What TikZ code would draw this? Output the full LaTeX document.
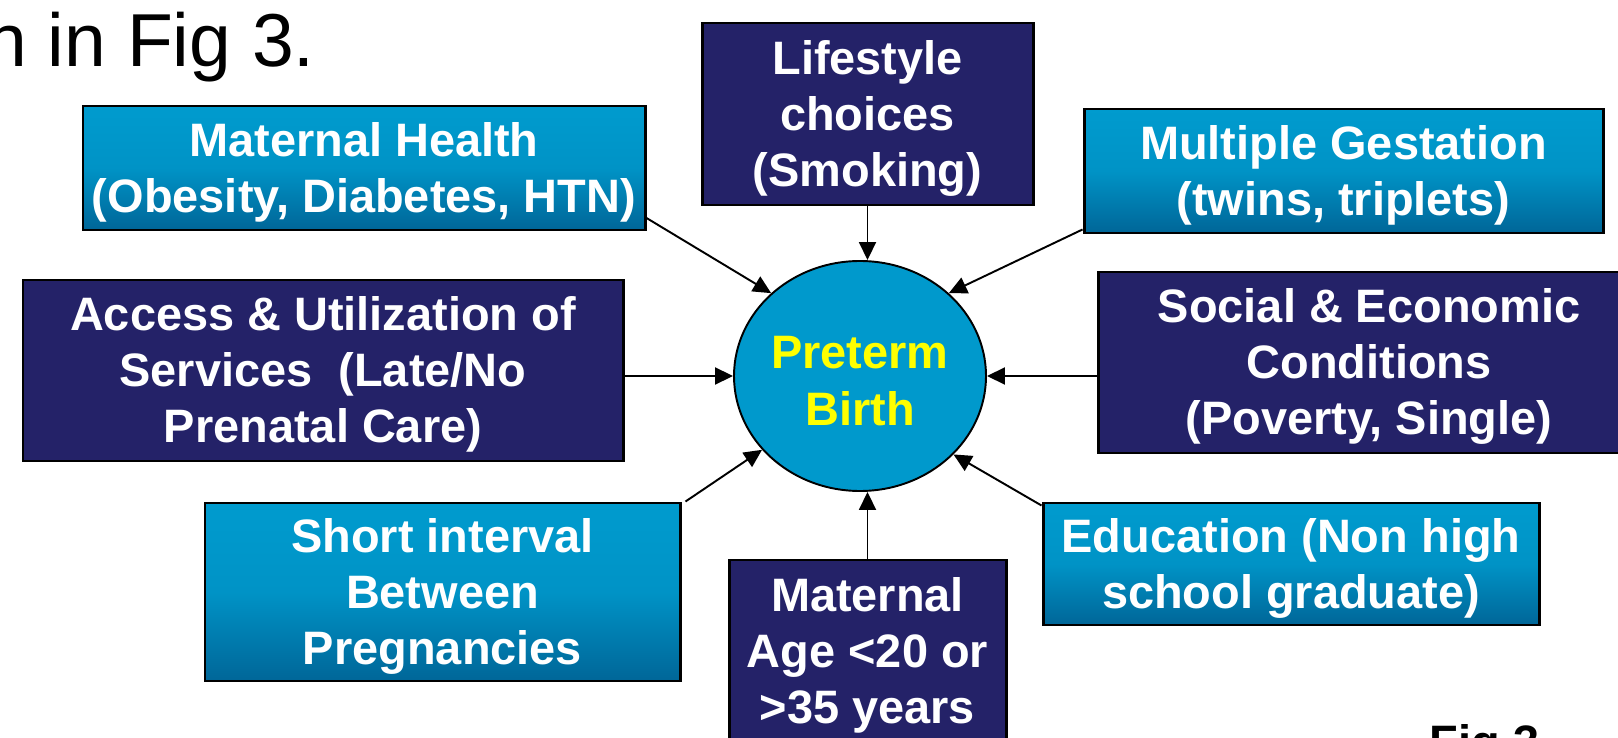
\documentclass[tikz,border=0pt]{standalone}
\usepackage{fontspec}
\setmainfont{Liberation Sans}
\usetikzlibrary{arrows.meta,shapes.geometric}

\definecolor{navy}{RGB}{36,34,104}
\definecolor{ptbblue}{RGB}{0,153,204}
\definecolor{cyantop}{RGB}{0,155,206}
\definecolor{cyanbot}{RGB}{0,102,152}
\definecolor{ptbyellow}{RGB}{255,255,0}

\newcommand{\factorfont}{\fontsize{26.7}{31.9}\selectfont\bfseries}
% full ascent for the first line of a box
\newcommand{\topstrut}{\rule{0pt}{0.905em}}

\tikzset{
    factor/.style={draw=black, line width=1.7pt, text=white, font=\factorfont, align=center, inner sep=0pt},
    darkfactor/.style={factor, fill=navy},
    lightfactor/.style={factor, top color=cyantop, bottom color=cyanbot, middle color=cyantop!85!cyanbot},
    arr/.style={-{Triangle[length=0.36cm,width=0.34cm]}, line width=1.1pt},
}

\begin{document}
\begin{tikzpicture}
                \clip (0,0) rectangle (32.36,-14.76);
                \fill[white] (0,0) rectangle (32.36,-14.76);

                \node[anchor=base west, inner sep=0pt, font=\fontsize{42.7}{50}\selectfont] (cap) at (-0.3,-1.34) {n in Fig 3.};
                \node[anchor=base west, inner sep=0pt, font=\factorfont] (fig) at (28.59,-15.16) {Fig 3};

                \node[lightfactor, minimum width=11.24cm, minimum height=2.48cm] (mh) at (7.28,-3.36) {\topstrut Maternal Health\\(Obesity, Diabetes, HTN)};
                \node[darkfactor, minimum width=6.62cm, minimum height=3.64cm] (life) at (17.35,-2.28) {\topstrut Lifestyle\\choices\\(Smoking)};
                \node[lightfactor, minimum width=10.38cm, minimum height=2.48cm] (multi) at (26.87,-3.42) {\topstrut Multiple Gestation\\(twins, triplets)};
                \node[darkfactor, minimum width=12cm, minimum height=3.62cm] (acc) at (6.46,-7.41) {\topstrut Access \& Utilization of\\Services\ \ (Late/No\\Prenatal Care)};
                \node[darkfactor, minimum width=10.84cm, minimum height=3.62cm] (soc) at (27.38,-7.25) {\topstrut Social \& Economic\\Conditions\\(Poverty, Single)};
                \node[lightfactor, minimum width=9.5cm, minimum height=3.56cm] (short) at (8.85,-11.84) {\topstrut Short interval\\Between\\Pregnancies};
                \node[darkfactor, minimum width=5.54cm, minimum height=3.64cm] (age) at (17.35,-13.02) {\topstrut Maternal\\Age <20 or\\>35 years};
                \node[lightfactor, minimum width=9.92cm, minimum height=2.44cm] (edu) at (25.82,-11.28) {\topstrut Education (Non high\\school graduate)};

                \node[ellipse, draw=black, line width=1.1pt, fill=ptbblue, minimum width=5.04cm, minimum height=4.6cm, inner sep=0pt,
                    text=ptbyellow, font=\factorfont, align=center] (ptb) at (17.2,-7.52) {\topstrut Preterm\\Birth};

                \draw[arr] ([yshift=0.27cm]mh.south east) -- (ptb.137);
                \draw[arr] (life.south) -- (life.south |- ptb.north);
                \draw[arr] ([yshift=0.1cm]multi.south west) -- (ptb.43);
                \draw[arr] (acc.east |- ptb.west) -- (ptb.west);
                \draw[arr] (soc.west |- ptb.east) -- (ptb.east);
                \draw[arr] ([xshift=0.08cm]short.north east) -- (ptb.217);
                \draw[arr] (age.north) -- (age.north |- ptb.south);
                \draw[arr] ([yshift=-0.08cm]edu.north west) -- (ptb.320);
            \end{tikzpicture}
\end{document}
